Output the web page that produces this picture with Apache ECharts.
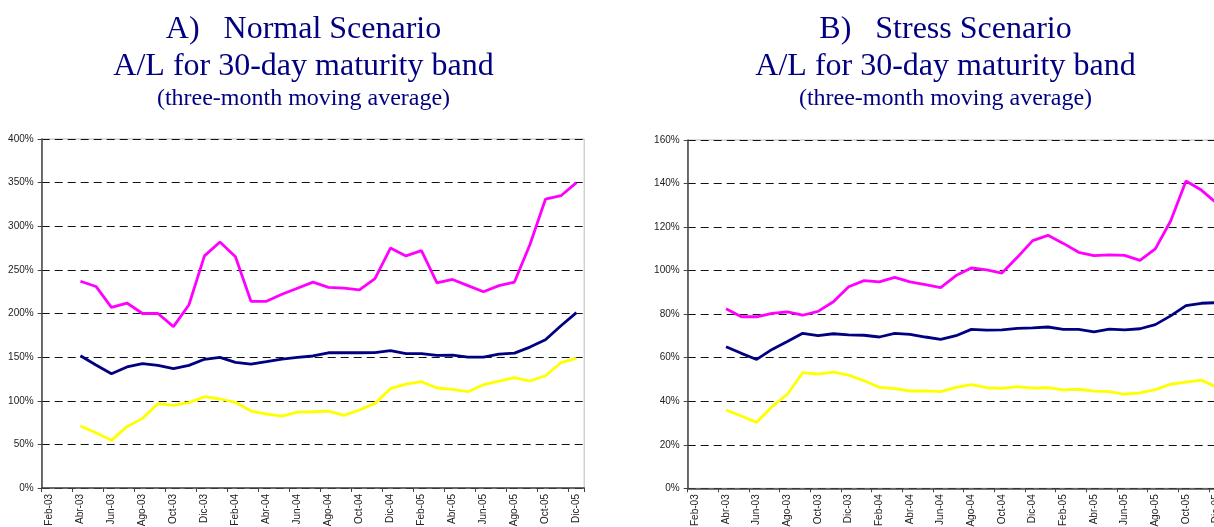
<!DOCTYPE html>
<html>
<head>
<meta charset="utf-8">
<script src="https://cdn.jsdelivr.net/npm/echarts@6/dist/echarts.min.js"></script>
<style>
html,body{margin:0;padding:0;background:#fff;}
#c{width:1214px;height:527px;}
</style>
</head>
<body>
<div id="c"></div>
<script>
const months = ['Feb-03','Mar-03','Abr-03','May-03','Jun-03','Jul-03','Ago-03','Sep-03','Oct-03','Nov-03','Dic-03',
  'Ene-04','Feb-04','Mar-04','Abr-04','May-04','Jun-04','Jul-04','Ago-04','Sep-04','Oct-04','Nov-04','Dic-04',
  'Ene-05','Feb-05','Mar-05','Abr-05','May-05','Jun-05','Jul-05','Ago-05','Sep-05','Oct-05','Nov-05','Dic-05'];

// values start at Abr-03 (first two months empty)
const normalMagenta = [237,231,207,212,200,200,185,210,266,282,265,214,214,222,229,236,230,229,227,240,275,266,272,235,239,232,225,232,236,279,331,335,350];
const normalBlue = [151.6,141,131,138.7,142.5,140.6,136.7,140.6,147.5,149.7,144,142,144.8,147.8,149.6,151.3,155,155,155,155.2,157.4,154,154,152,152.3,150,150,153.5,154.6,161.5,170,186,201];
const normalYellow = [71,63.4,54.6,70.3,79.8,96.6,94.7,97.8,104.6,102,98.2,88.2,84.8,82.5,87,87.4,88.2,83.3,89.4,97,113.8,119,121.8,114.6,113,110.4,118.4,122.6,126.4,122.6,128.7,143.6,148.6];

const stressMagenta = [82.5,78.8,78.8,80.4,81,79.5,81.3,85.7,92.6,95.4,94.8,96.9,94.8,93.6,92.2,97.7,101.2,100.3,98.9,106.1,113.8,116.2,112.5,108.4,106.9,107.2,107,104.7,110,122.8,141.2,137,131];
const stressBlue = [65,62,59.2,63.8,67.4,71.2,70.1,71,70.5,70.3,69.5,71.2,70.7,69.5,68.4,70.1,73,72.7,72.8,73.5,73.7,74.1,73,73,71.9,73.1,72.8,73.3,75.2,79.2,83.9,85,85.3];
const stressYellow = [36,33.2,30.3,37.5,43.2,53.1,52.5,53.4,52,49.4,46.4,45.8,44.7,44.8,44.4,46.4,47.6,46.2,45.9,46.7,46,46.2,45.2,45.5,44.6,44.4,43.2,43.8,45.3,47.8,48.8,49.7,46.5];

const leadEmpty = [null, null];
const normalAxis = {min: 0, max: 400, interval: 50};
const stressAxis = {min: 0, max: 160, interval: 20};

const titleLines = [
  {main: 'A)   Normal Scenario\nA/L for 30-day maturity band', sub: '(three-month moving average)'},
  {main: 'B)   Stress Scenario\nA/L for 30-day maturity band', sub: '(three-month moving average)'}
];

const sansFont = '"Liberation Sans", Arial, sans-serif';
const serifFont = '"Liberation Serif", "Times New Roman", serif';
const navy = '#000080';

function xAxisCfg(gi){
  return {
    type: 'category', gridIndex: gi, data: months, boundaryGap: true,
    axisLine: {show: true, lineStyle: {color: '#444', width: 1.5}},
    axisTick: {show: true, interval: 1, length: 4, lineStyle: {color: '#444'}},
    axisLabel: {interval: 1, rotate: 90, fontSize: 10, fontFamily: sansFont, color: '#222', margin: 6},
    splitLine: {show: false}
  };
}
function yAxisCfg(gi, ax){
  return {
    type: 'value', gridIndex: gi, min: ax.min, max: ax.max, interval: ax.interval,
    axisLine: {show: true, lineStyle: {color: '#444', width: 1.5}},
    axisTick: {show: true, length: 4, lineStyle: {color: '#444'}},
    axisLabel: {formatter: '{value}%', fontSize: 10, fontFamily: sansFont, color: '#222', margin: 8},
    splitLine: {show: true, lineStyle: {color: '#111', width: 1, type: [8, 5]}}
  };
}
function lineSeries(gi, data, color){
  return {
    type: 'line', xAxisIndex: gi, yAxisIndex: gi, data: leadEmpty.concat(data),
    symbol: 'none', lineStyle: {color: color, width: 2.8}, itemStyle: {color: color},
    connectNulls: false, animation: false, z: 3
  };
}
function titleCfg(i, cx){
  return {
    text: titleLines[i].main, subtext: titleLines[i].sub, left: cx, top: 6, textAlign: 'center', itemGap: 2,
    textStyle: {fontFamily: serifFont, fontSize: 32, fontWeight: 'normal', color: navy, lineHeight: 37},
    subtextStyle: {fontFamily: serifFont, fontSize: 24, color: navy, lineHeight: 24}
  };
}

const chart = echarts.init(document.getElementById('c'), null, {renderer: 'canvas'});
chart.setOption({
  backgroundColor: '#fff',
  animation: false,
  title: [titleCfg(0, 298.5), titleCfg(1, 940.5)],
  grid: [
    {left: 41.7, top: 139, width: 542.5, height: 349, outerBoundsMode: 'none', show: true, borderColor: '#bbb', borderWidth: 1, containLabel: false},
    {left: 687.7, top: 140, width: 536.6, height: 348.3, outerBoundsMode: 'none', show: true, borderColor: '#bbb', borderWidth: 1, containLabel: false}
  ],
  xAxis: [xAxisCfg(0), xAxisCfg(1)],
  yAxis: [yAxisCfg(0, normalAxis), yAxisCfg(1, stressAxis)],
  series: [
    lineSeries(0, normalYellow, '#ffff00'),
    lineSeries(0, normalBlue, '#000080'),
    lineSeries(0, normalMagenta, '#ff00ff'),
    lineSeries(1, stressYellow, '#ffff00'),
    lineSeries(1, stressBlue, '#000080'),
    lineSeries(1, stressMagenta, '#ff00ff')
  ]
});
</script>
</body>
</html>
